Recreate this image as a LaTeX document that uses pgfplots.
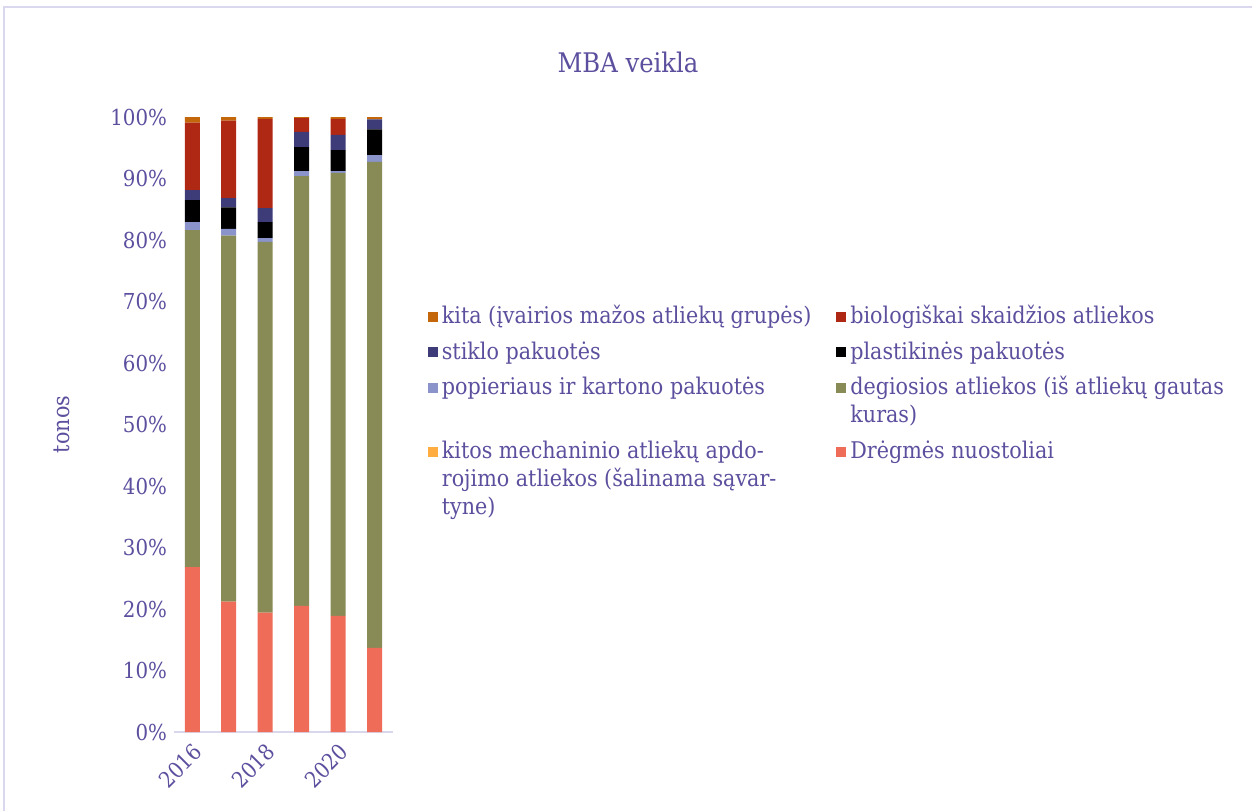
\documentclass[border=0pt]{standalone}
\usepackage{fontspec}
\setmainfont{DejaVu Serif Condensed}
\usepackage{pgfplots}
\pgfplotsset{compat=1.18}
\definecolor{txt}{RGB}{91,79,158}
\definecolor{framec}{RGB}{218,216,238}
\definecolor{linec}{RGB}{217,215,235}
\definecolor{kitac}{RGB}{196,103,10}
\definecolor{bioc}{RGB}{175,40,20}
\definecolor{stikc}{RGB}{62,60,120}
\definecolor{plac}{RGB}{0,0,0}
\definecolor{popc}{RGB}{138,148,202}
\definecolor{degc}{RGB}{137,139,86}
\definecolor{mechc}{RGB}{255,172,64}
\definecolor{drec}{RGB}{238,108,88}
\newcommand\legtab[1]{\begin{tabular}[t]{@{}l@{}}#1\end{tabular}}
\begin{document}
\begin{tikzpicture}
\useasboundingbox (0pt,0pt) rectangle (626pt,405.5pt);
\draw[framec, line width=1pt] (1.75pt,0pt) -- (1.75pt,401.75pt) -- (626pt,401.75pt);
\node[txt, font=\fontsize{13.5}{16}\selectfont] at (314pt,374.5pt) {MBA veikla};
\begin{axis}[
  at={(87pt,39.5pt)}, anchor=south west,
  width=109.5pt, height=307.5pt, scale only axis,
  ymin=0, ymax=100, xmin=-0.5, xmax=5.5,
  ybar stacked, bar width=7.5pt,
  axis x line*=bottom, axis y line*=left,
  y axis line style={draw=none},
  x axis line style={draw=linec, line width=1pt},
  major tick length=0pt,
  ytick={0,10,...,100},
  yticklabel={\pgfmathprintnumber{\tick}\%},
  /pgf/number format/assume math mode=true,
  xtick={0,2,4}, xticklabels={2016,2018,2020},
  xticklabel style={rotate=45, anchor=north east},
  tick label style={txt, font=\fontsize{11}{13}\selectfont},
  ylabel={tonos},
  ylabel style={at={(axis description cs:-0.511,0.5)}, anchor=center, txt, font=\fontsize{11.5}{14}\selectfont},
  legend image code/.code={\fill[#1] (0pt,0.9pt) rectangle (5pt,5.9pt);},
  legend columns=2,
  legend style={draw=none, fill=none, at={(axis description cs:1.13,0.7095)}, anchor=north west,
    font=\fontsize{11.5}{14}\selectfont, text=txt, row sep=2.5pt,
    cells={anchor=base west},
    /tikz/every even column/.append style={column sep=10.5pt}},
]
\addlegendimage{fill=kitac, draw=none}\addlegendentry{\legtab{kita (įvairios mažos atliekų grupės)}}
\addlegendimage{fill=bioc, draw=none}\addlegendentry{\legtab{biologiškai skaidžios atliekos}}
\addlegendimage{fill=stikc, draw=none}\addlegendentry{\legtab{stiklo pakuotės}}
\addlegendimage{fill=plac, draw=none}\addlegendentry{\legtab{plastikinės pakuotės}}
\addlegendimage{fill=popc, draw=none}\addlegendentry{\legtab{popieriaus ir kartono pakuotės}}
\addlegendimage{fill=degc, draw=none}\addlegendentry{\legtab{degiosios atliekos (iš atliekų gautas\\kuras)}}
\addlegendimage{fill=mechc, draw=none}\addlegendentry{\legtab{\rule{0pt}{24pt}kitos mechaninio atliekų apdo-\\rojimo atliekos (šalinama sąvar-\\tyne)}}
\addlegendimage{fill=drec, draw=none}\addlegendentry{\legtab{\rule{0pt}{24pt}Drėgmės nuostoliai}}
\addplot[fill=drec, draw=none, forget plot] coordinates {(0,26.8) (1,21.2) (2,19.4) (3,20.5) (4,18.9) (5,13.7)};
\addplot[fill=mechc, draw=none, forget plot] coordinates {(0,0) (1,0) (2,0) (3,0) (4,0) (5,0)};
\addplot[fill=degc, draw=none, forget plot] coordinates {(0,54.8) (1,59.5) (2,60.3) (3,69.9) (4,72.0) (5,79.0)};
\addplot[fill=popc, draw=none, forget plot] coordinates {(0,1.3) (1,1.1) (2,0.6) (3,0.8) (4,0.3) (5,1.1)};
\addplot[fill=plac, draw=none, forget plot] coordinates {(0,3.6) (1,3.5) (2,2.6) (3,3.9) (4,3.4) (5,4.2)};
\addplot[fill=stikc, draw=none, forget plot] coordinates {(0,1.6) (1,1.5) (2,2.3) (3,2.5) (4,2.5) (5,1.6)};
\addplot[fill=bioc, draw=none, forget plot] coordinates {(0,11.0) (1,12.6) (2,14.5) (3,2.2) (4,2.6) (5,0)};
\addplot[fill=kitac, draw=none, forget plot] coordinates {(0,0.9) (1,0.6) (2,0.3) (3,0.2) (4,0.3) (5,0.4)};
\end{axis}
\end{tikzpicture}
\end{document}
